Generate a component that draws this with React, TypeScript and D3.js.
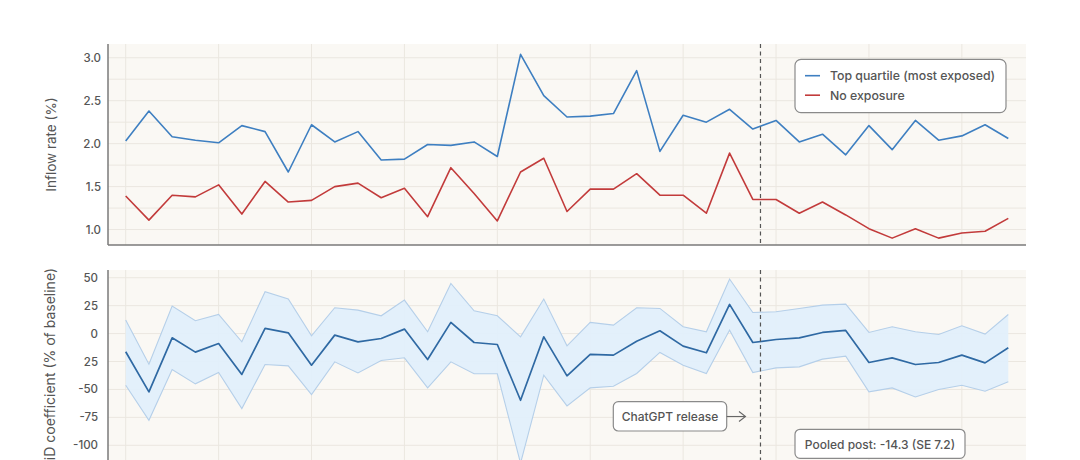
import React from "react";
import * as d3 from "d3";

// ---- data ----
const topQuartile = [
  2.03, 2.38, 2.08, 2.04, 2.01, 2.21, 2.14, 1.67, 2.22, 2.02, 2.14, 1.81,
  1.82, 1.99, 1.98, 2.02, 1.85, 3.04, 2.56, 2.31, 2.32, 2.35, 2.85, 1.91,
  2.33, 2.25, 2.40, 2.17, 2.27, 2.02, 2.11, 1.87, 2.21, 1.93, 2.27, 2.04,
  2.09, 2.22, 2.06,
];
const noExposure = [
  1.39, 1.11, 1.40, 1.38, 1.52, 1.18, 1.56, 1.32, 1.34, 1.50, 1.54, 1.37,
  1.48, 1.15, 1.72, 1.42, 1.10, 1.67, 1.83, 1.21, 1.47, 1.47, 1.65, 1.40,
  1.40, 1.19, 1.89, 1.35, 1.35, 1.19, 1.32, 1.17, 1.01, 0.90, 1.01, 0.90,
  0.96, 0.98, 1.13,
];
const didCoef = [
  -16.3, -52.2, -3.8, -16.6, -8.9, -36.6, 4.6, 0.7, -28.3, -1.4, -7.4, -4.4,
  4.0, -23.2, 10.0, -8.0, -9.8, -59.7, -2.9, -37.8, -18.7, -19.3, -6.8, 2.5,
  -11.2, -17.2, 26.1, -8.0, -5.3, -3.8, 1.0, 2.8, -25.9, -21.7, -27.7, -25.9,
  -19.3, -26.2, -12.7,
];
const didUpper = [
  12.1, -27.4, 24.6, 11.5, 17.1, -7.4, 37.5, 30.9, -2.0, 23.1, 21.0, 15.9,
  30.0, 1.6, 44.9, 20.4, 15.9, -2.9, 30.9, -11.0, 10.0, 7.6, 23.1, 22.5,
  6.1, 1.6, 48.8, 18.9, 19.5, 22.5, 25.5, 26.4, 1.0, 6.1, 1.6, -0.8,
  7.0, -0.5, 17.1,
];
const didLower = [
  -46.2, -77.6, -32.2, -45.0, -34.9, -67.1, -27.7, -28.9, -54.6, -25.3, -35.2, -24.1,
  -21.7, -48.6, -25.3, -36.0, -36.0, -116.0, -37.2, -64.7, -48.6, -47.1, -35.7, -16.9,
  -28.3, -35.7, 3.1, -34.9, -30.7, -29.8, -22.9, -20.2, -52.2, -48.6, -56.7, -50.1,
  -46.2, -51.6, -43.2,
];
const releaseIndex = 27.33;
const topTicks = [1.0, 1.5, 2.0, 2.5, 3.0];
const topTickLabels = ["1.0", "1.5", "2.0", "2.5", "3.0"];
const topGrid = [1.0, 1.25, 1.5, 1.75, 2.0, 2.25, 2.5, 2.75, 3.0];
const botTicks = [50, 25, 0, -25, -50, -75, -100];
const botTickLabels = ["50", "25", "0", "25", "-50", "-75", "-100"];
const botGrid = [50, 25, 0, -25, -50, -75, -100, -125];
const xGrid = [0, 4, 8, 12, 16, 20, 24, 28, 32, 36];
const legendLabels = ["Top quartile (most exposed)", "No exposure"];
const releaseLabel = "ChatGPT release";
const pooledLabel = "Pooled post: -14.3 (SE 7.2)";
const topYLabel = "Inflow rate (%)";
const botYLabel = "DiD coefficient (% of baseline)";

// ---- style ----
const FONT = "Inter, 'Noto Sans', sans-serif";
const BG = "#faf8f4";
const GRID = "#ebe7e0";
const AXIS = "#7a7a7a";
const BLUE = "#3e7fc1";
const RED = "#c23b3b";
const DARKBLUE = "#2f69a3";
const BAND = "#e2effb";
const BANDEDGE = "#b5cfe9";
const TEXT = "#555555";

export default function App() {
  const W = 1080;
  const H = 460;
  const left = 108;
  const right = 1026;
  const top1 = 44;
  const bot1 = 245;
  const top2 = 270;
  const bot2 = 490;

  const n = topQuartile.length;
  const x = d3.scaleLinear().domain([0, n - 1]).range([125.7, 1008.3]);
  const y1 = d3.scaleLinear().domain([0.82, 3.16]).range([bot1, top1]);
  const y2 = d3.scaleLinear().domain([-140, 56.9]).range([bot2, top2]);

  const line1 = d3
    .line<number>()
    .x((_, i) => x(i))
    .y((d) => y1(d));
  const line2 = d3
    .line<number>()
    .x((_, i) => x(i))
    .y((d) => y2(d));
  const area = d3
    .area<number>()
    .x((_, i) => x(i))
    .y0((_, i) => y2(didLower[i]))
    .y1((_, i) => y2(didUpper[i]));

  const xr = x(releaseIndex);

  return (
    <svg
      width={W}
      height={H}
      style={{ position: "absolute", left: 0, top: 0, background: "#fff" }}
      fontFamily={FONT}
    >
      <defs>
        <clipPath id="clipTop">
          <rect x={left} y={top1} width={right - left} height={bot1 - top1} />
        </clipPath>
        <clipPath id="clipBot">
          <rect x={left} y={top2} width={right - left} height={bot2 - top2} />
        </clipPath>
      </defs>

      {/* ---------- top panel ---------- */}
      <rect x={left} y={top1} width={right - left} height={bot1 - top1} fill={BG} />
      {topGrid.map((v) => (
        <line key={"tg" + v} x1={left} x2={right} y1={y1(v)} y2={y1(v)} stroke={GRID} strokeWidth={1} />
      ))}
      {xGrid.map((v) => (
        <line key={"txg" + v} x1={x(v)} x2={x(v)} y1={top1} y2={bot1} stroke={GRID} strokeWidth={1} />
      ))}
      <g clipPath="url(#clipTop)">
        <path d={line1(topQuartile) || ""} fill="none" stroke={BLUE} strokeWidth={1.6} strokeLinejoin="round" />
        <path d={line1(noExposure) || ""} fill="none" stroke={RED} strokeWidth={1.6} strokeLinejoin="round" />
      </g>
      <line x1={xr} x2={xr} y1={top1} y2={bot1} stroke="#555" strokeWidth={1.2} strokeDasharray="4,3.5" />
      <line x1={left} x2={left} y1={top1} y2={bot1} stroke={AXIS} strokeWidth={1.5} />
      <line x1={left} x2={right} y1={bot1} y2={bot1} stroke={AXIS} strokeWidth={1.5} />
      {topTicks.map((v, i) => (
        <text
          key={"tt" + v}
          x={101}
          y={y1(v)}
          textAnchor="end"
          dominantBaseline="central"
          fontSize={11.5}
          fontWeight={500}
          fill={TEXT}
        >
          {topTickLabels[i]}
        </text>
      ))}
      <text
        transform={`translate(50.5,${(top1 + bot1) / 2}) rotate(-90)`}
        textAnchor="middle"
        dominantBaseline="central"
        fontSize={13.5}
        fill={TEXT}
      >
        {topYLabel}
      </text>

      {/* legend */}
      <rect x={795} y={59.3} width={211} height={53.4} rx={6} fill="#fff" stroke="#8a8a8a" strokeWidth={1.2} />
      {[BLUE, RED].map((c, i) => (
        <g key={"lg" + i}>
          <line x1={805} x2={820} y1={75.7 + i * 19.5} y2={75.7 + i * 19.5} stroke={c} strokeWidth={1.6} />
          <text
            x={830}
            y={75.7 + i * 19.5}
            dominantBaseline="central"
            fontSize={12.3}
            fontWeight={500}
            fill={TEXT}
          >
            {legendLabels[i]}
          </text>
        </g>
      ))}

      {/* ---------- bottom panel ---------- */}
      <rect x={left} y={top2} width={right - left} height={bot2 - top2} fill={BG} />
      {botGrid.map((v) => (
        <line key={"bg" + v} x1={left} x2={right} y1={y2(v)} y2={y2(v)} stroke={GRID} strokeWidth={1} />
      ))}
      {xGrid.map((v) => (
        <line key={"bxg" + v} x1={x(v)} x2={x(v)} y1={top2} y2={bot2} stroke={GRID} strokeWidth={1} />
      ))}
      <g clipPath="url(#clipBot)">
        <path d={area(didCoef) || ""} fill={BAND} fillOpacity={0.95} stroke="none" />
        <path d={line2(didUpper) || ""} fill="none" stroke={BANDEDGE} strokeWidth={1.1} />
        <path d={line2(didLower) || ""} fill="none" stroke={BANDEDGE} strokeWidth={1.1} />
        <path d={line2(didCoef) || ""} fill="none" stroke={DARKBLUE} strokeWidth={1.7} strokeLinejoin="round" />
      </g>
      <line x1={xr} x2={xr} y1={top2} y2={bot2} stroke="#555" strokeWidth={1.2} strokeDasharray="4,3.5" />
      <line x1={left} x2={left} y1={top2} y2={bot2} stroke={AXIS} strokeWidth={1.5} />
      {botTicks.map((v, i) => (
        <text
          key={"bt" + v}
          x={98}
          y={y2(v)}
          textAnchor="end"
          dominantBaseline="central"
          fontSize={11.5}
          fontWeight={500}
          fill={TEXT}
        >
          {botTickLabels[i]}
        </text>
      ))}
      <text
        transform={`translate(49,268) rotate(-90)`}
        textAnchor="end"
        dominantBaseline="central"
        fontSize={14}
        fill={TEXT}
      >
        {botYLabel}
      </text>

      {/* ChatGPT release annotation */}
      <rect x={613.3} y={401.7} width={113.4} height={29.3} rx={5} fill="#fff" stroke="#8a8a8a" strokeWidth={1.2} />
      <text x={670} y={416.5} textAnchor="middle" dominantBaseline="central" fontSize={12} fontWeight={500} fill={TEXT}>
        {releaseLabel}
      </text>
      <line x1={726.7} x2={745} y1={416.5} y2={416.5} stroke="#666" strokeWidth={1.1} />
      <path d={`M739,411.5 L745.5,416.5 L739,421.5`} fill="none" stroke="#666" strokeWidth={1.1} />

      {/* pooled annotation */}
      <rect x={795} y={429.3} width={170} height={29} rx={5} fill="#fff" stroke="#8a8a8a" strokeWidth={1.2} />
      <text x={880} y={444} textAnchor="middle" dominantBaseline="central" fontSize={12} fontWeight={500} fill={TEXT}>
        {pooledLabel}
      </text>
    </svg>
  );
}
